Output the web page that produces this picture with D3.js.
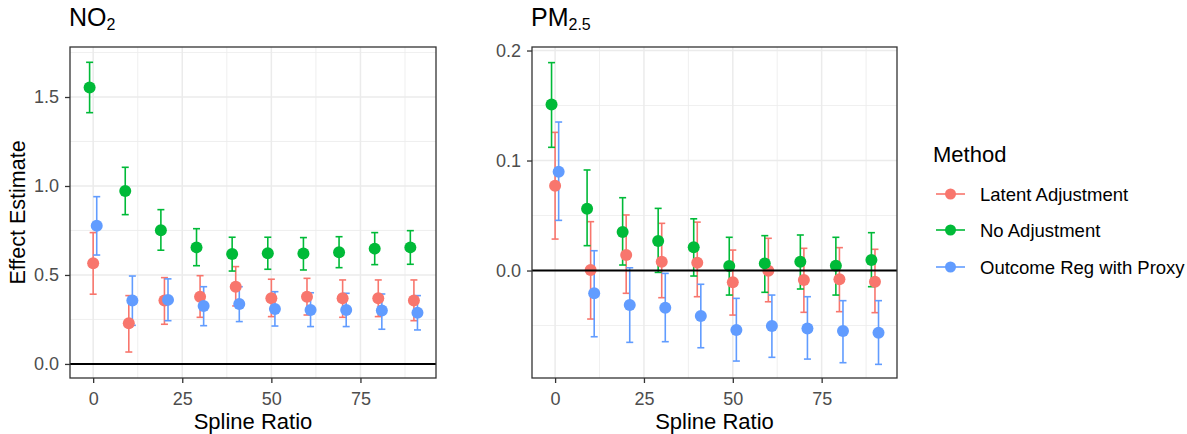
<!DOCTYPE html>
<html>
<head>
  <meta charset="utf-8">
  <title>Effect estimates by spline ratio</title>
  <script src="https://d3js.org/d3.v7.min.js"></script>
  <style>
    body { margin: 0; background: #fff; }
    text { font-family: "Liberation Sans", Arial, sans-serif; }
  </style>
</head>
<body>
<script>
// ---- data ----
var ratios = [0, 10, 20, 30, 40, 50, 60, 70, 80, 90];
var methods = ["Latent Adjustment", "No Adjustment", "Outcome Reg with Proxy"];
var colors = ["#F8766D", "#00BA38", "#619CFF"];

// NO2
var no2LatentEst = [0.566, 0.229, 0.356, 0.378, 0.434, 0.369, 0.378, 0.369, 0.369, 0.356];
var no2LatentLo  = [0.392, 0.067, 0.223, 0.262, 0.326, 0.266, 0.275, 0.262, 0.266, 0.243];
var no2LatentHi  = [0.738, 0.384, 0.485, 0.496, 0.547, 0.476, 0.481, 0.472, 0.472, 0.472];
var no2NoAdjEst  = [1.554, 0.972, 0.751, 0.655, 0.618, 0.622, 0.620, 0.627, 0.648, 0.655];
var no2NoAdjLo   = [1.412, 0.839, 0.639, 0.552, 0.522, 0.532, 0.528, 0.541, 0.558, 0.560];
var no2NoAdjHi   = [1.695, 1.105, 0.867, 0.760, 0.712, 0.712, 0.710, 0.715, 0.738, 0.749];
var no2ProxyEst  = [0.777, 0.356, 0.360, 0.326, 0.337, 0.309, 0.303, 0.303, 0.300, 0.288];
var no2ProxyLo   = [0.612, 0.217, 0.243, 0.215, 0.238, 0.213, 0.210, 0.210, 0.195, 0.191];
var no2ProxyHi   = [0.940, 0.494, 0.478, 0.434, 0.434, 0.406, 0.400, 0.397, 0.393, 0.384];

// PM2.5
var pmLatentEst = [0.0771, 0.0005, 0.0141, 0.0080, 0.0071, -0.0107, -0.0002, -0.0086, -0.0080, -0.0102];
var pmLatentLo  = [0.0286, -0.0441, -0.0207, -0.0247, -0.0238, -0.0405, -0.0284, -0.0380, -0.0374, -0.0383];
var pmLatentHi  = [0.1256, 0.0444, 0.0505, 0.0429, 0.0440, 0.0186, 0.0293, 0.0202, 0.0208, 0.0193];
var pmNoAdjEst  = [0.1510, 0.0562, 0.0350, 0.0268, 0.0211, 0.0041, 0.0065, 0.0080, 0.0044, 0.0095];
var pmNoAdjLo   = [0.1120, 0.0226, 0.0050, -0.0017, -0.0050, -0.0223, -0.0198, -0.0168, -0.0223, -0.0147];
var pmNoAdjHi   = [0.1890, 0.0914, 0.0662, 0.0565, 0.0470, 0.0302, 0.0317, 0.0323, 0.0302, 0.0344];
var pmProxyEst  = [0.0898, -0.0207, -0.0314, -0.0338, -0.0414, -0.0541, -0.0505, -0.0526, -0.0550, -0.0565];
var pmProxyLo   = [0.0456, -0.0602, -0.0653, -0.0647, -0.0702, -0.0823, -0.0789, -0.0805, -0.0838, -0.0853];
var pmProxyHi   = [0.1350, 0.0180, 0.0025, -0.0026, -0.0125, -0.0253, -0.0223, -0.0238, -0.0274, -0.0274];

var xTicks = [0, 25, 50, 75];
var no2Ticks = [0.0, 0.5, 1.0, 1.5];
var pmTicks = [0.0, 0.1, 0.2];

function rows(est, lo, hi) {
  return ratios.map(function(r, i) { return {x: r, est: est[i], lo: lo[i], hi: hi[i]}; });
}

var panels = [
  {title: "NO", sub: "2", left: 70, right: 436, yDomain: [-0.079, 1.781], yTicks: no2Ticks,
   series: [rows(no2LatentEst, no2LatentLo, no2LatentHi), rows(no2NoAdjEst, no2NoAdjLo, no2NoAdjHi), rows(no2ProxyEst, no2ProxyLo, no2ProxyHi)]},
  {title: "PM", sub: "2.5", left: 532, right: 897, yDomain: [-0.0977, 0.2032], yTicks: pmTicks,
   series: [rows(pmLatentEst, pmLatentLo, pmLatentHi), rows(pmNoAdjEst, pmNoAdjLo, pmNoAdjHi), rows(pmProxyEst, pmProxyLo, pmProxyHi)]}
];
var dodge = [0, -1, 1];   // small horizontal shift per method

var W = 1187, H = 434, pTop = 47, pBottom = 378;
var fmt = d3.format(".1f");

var svg = d3.select("body").append("svg").attr("width", W).attr("height", H);

panels.forEach(function(p) {
  var x = d3.scaleLinear().domain([-6.5, 96.2]).range([p.left, p.right]);
  var y = d3.scaleLinear().domain(p.yDomain).range([pBottom, pTop]);
  var g = svg.append("g");

  // minor grid
  var xMinor = xTicks.map(function(t) { return t + 12.5; });
  var step = p.yTicks[1] - p.yTicks[0];
  var yMinor = d3.range(p.yTicks[0] - step / 2, p.yDomain[1], step).filter(function(v) { return v > p.yDomain[0]; });
  g.selectAll(".xmin").data(xMinor).enter().append("line")
    .attr("x1", x).attr("x2", x).attr("y1", pTop).attr("y2", pBottom)
    .attr("stroke", "#EBEBEB").attr("stroke-width", 0.8);
  g.selectAll(".ymin").data(yMinor).enter().append("line")
    .attr("x1", p.left).attr("x2", p.right).attr("y1", y).attr("y2", y)
    .attr("stroke", "#EBEBEB").attr("stroke-width", 0.8);
  // major grid
  g.selectAll(".xmaj").data(xTicks).enter().append("line")
    .attr("x1", x).attr("x2", x).attr("y1", pTop).attr("y2", pBottom)
    .attr("stroke", "#EBEBEB").attr("stroke-width", 1.5);
  g.selectAll(".ymaj").data(p.yTicks).enter().append("line")
    .attr("x1", p.left).attr("x2", p.right).attr("y1", y).attr("y2", y)
    .attr("stroke", "#EBEBEB").attr("stroke-width", 1.5);

  // error bars
  p.series.forEach(function(s, si) {
    var eg = g.append("g").attr("stroke", colors[si]).attr("stroke-width", 1.6).attr("fill", "none");
    s.forEach(function(d) {
      var cx = x(d.x + dodge[si]);
      eg.append("line").attr("x1", cx).attr("x2", cx).attr("y1", y(d.lo)).attr("y2", y(d.hi));
      eg.append("line").attr("x1", cx - 3.5).attr("x2", cx + 3.5).attr("y1", y(d.lo)).attr("y2", y(d.lo));
      eg.append("line").attr("x1", cx - 3.5).attr("x2", cx + 3.5).attr("y1", y(d.hi)).attr("y2", y(d.hi));
    });
  });
  // points
  p.series.forEach(function(s, si) {
    g.selectAll(".pt" + si).data(s).enter().append("circle")
      .attr("cx", function(d) { return x(d.x + dodge[si]); })
      .attr("cy", function(d) { return y(d.est); })
      .attr("r", 6).attr("fill", colors[si]);
  });

  // zero line
  g.append("line").attr("x1", p.left).attr("x2", p.right).attr("y1", y(0)).attr("y2", y(0))
    .attr("stroke", "#000").attr("stroke-width", 2);

  // border
  g.append("rect").attr("x", p.left).attr("y", pTop).attr("width", p.right - p.left).attr("height", pBottom - pTop)
    .attr("fill", "none").attr("stroke", "#333").attr("stroke-width", 1.3);

  // axes
  var xa = svg.append("g").attr("transform", "translate(0," + pBottom + ")")
    .call(d3.axisBottom(x).tickValues(xTicks).tickSize(5).tickPadding(9));
  var ya = svg.append("g").attr("transform", "translate(" + p.left + ",0)")
    .call(d3.axisLeft(y).tickValues(p.yTicks).tickFormat(fmt).tickSize(5).tickPadding(6));
  [xa, ya].forEach(function(a) {
    a.attr("font-size", null).attr("font-family", null);
    a.select(".domain").remove();
    a.selectAll(".tick line").attr("stroke", "#333").attr("stroke-width", 1.3);
    a.selectAll(".tick text").attr("fill", "#4D4D4D").style("font-size", "18px");
  });

  // panel title with subscript
  var t = svg.append("text").attr("x", p.left - 1).attr("y", 26).style("font-size", "25px").attr("fill", "#000");
  t.append("tspan").text(p.title);
  t.append("tspan").attr("dy", 4).style("font-size", "16px").text(p.sub);

  // x title
  svg.append("text").attr("x", (p.left + p.right) / 2).attr("y", 429).attr("text-anchor", "middle")
    .style("font-size", "22px").text("Spline Ratio");
});

// y title
svg.append("text").attr("transform", "translate(25," + ((pTop + pBottom) / 2) + ") rotate(-90)")
  .attr("text-anchor", "middle").style("font-size", "21.5px").text("Effect Estimate");

// legend
var lg = svg.append("g");
lg.append("text").attr("x", 933).attr("y", 162).style("font-size", "22px").text("Method");
var ly = [194, 230, 267];
methods.forEach(function(m, i) {
  lg.append("line").attr("x1", 936).attr("x2", 965).attr("y1", ly[i]).attr("y2", ly[i])
    .attr("stroke", colors[i]).attr("stroke-width", 1.6);
  lg.append("circle").attr("cx", 950.5).attr("cy", ly[i]).attr("r", 5.5).attr("fill", colors[i]);
  lg.append("text").attr("x", 980).attr("y", ly[i] + 6.5).style("font-size", "18.5px").text(m);
});
</script>
</body>
</html>
